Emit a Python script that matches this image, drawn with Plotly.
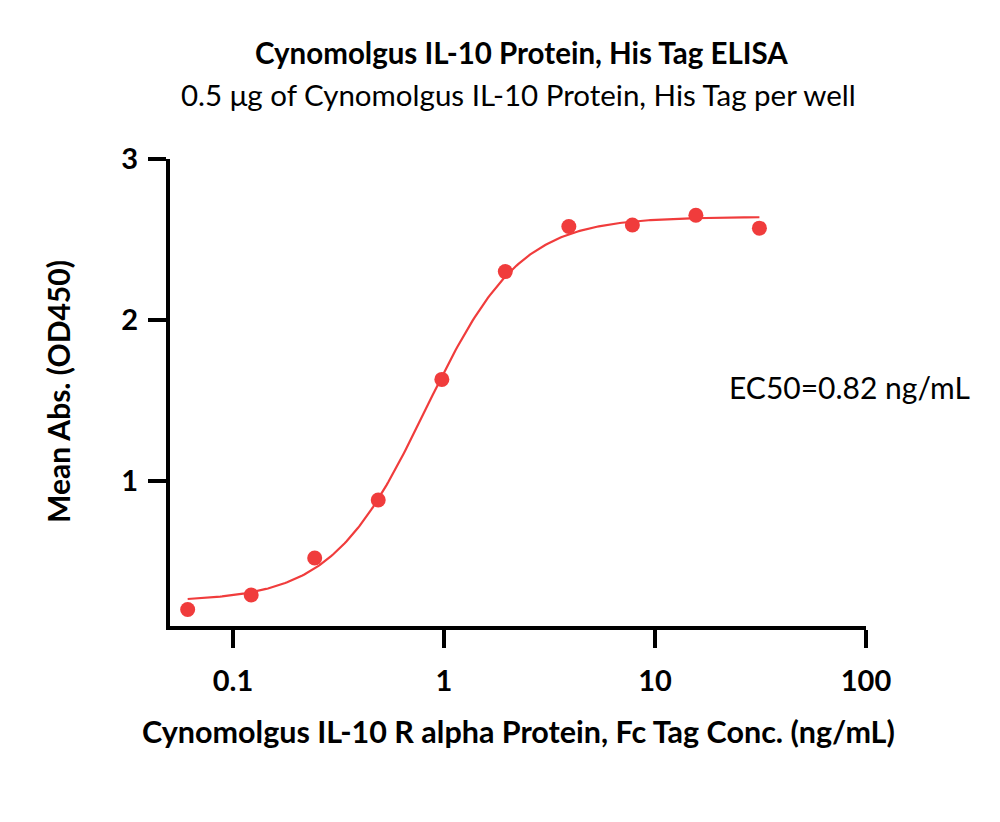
import numpy as np
import plotly.graph_objects as go

# Data
conc = [0.061, 0.122, 0.244, 0.488, 0.977, 1.953, 3.906, 7.8125, 15.625, 31.25]
od450 = [0.20, 0.29, 0.52, 0.88, 1.63, 2.30, 2.58, 2.59, 2.65, 2.57]

# 4PL fit parameters
fit_bottom = 0.25
fit_top = 2.64
fit_ec50 = 0.82
fit_hill = 1.95

x_ticks = [0.1, 1, 10, 100]
x_ticklabels = ["0.1", "1", "10", "100"]
y_ticks = [1, 2, 3]
y_ticklabels = ["1", "2", "3"]

title = "Cynomolgus IL-10 Protein, His Tag ELISA"
subtitle = "0.5 μg of Cynomolgus IL-10 Protein, His Tag per well"
x_title = "Cynomolgus IL-10 R alpha Protein, Fc Tag Conc. (ng/mL)"
y_title = "Mean Abs. (OD450)"
ec50_text = "EC50=0.82 ng/mL"

red = "#F03C3C"
FONT = "Lato"

# page offset (browser body margin) is 8px
L, T, R, B = 162, 151, 142, 204
PW = 1000 - L - R
PH = 822 - T - B


def px(xp):
    return (xp - 8 - L) / PW


def py(yp):
    return 1 - (yp - 8 - T) / PH


xc = np.logspace(np.log10(conc[0]), np.log10(conc[-1]), 300)
yc = fit_bottom + (fit_top - fit_bottom) / (1 + (fit_ec50 / xc) ** fit_hill)

fig = go.Figure()
fig.add_trace(go.Scatter(x=xc, y=yc, mode="lines",
                         line=dict(color=red, width=2.2), hoverinfo="skip"))
fig.add_trace(go.Scatter(x=conc, y=od450, mode="markers",
                         marker=dict(color=red, size=15, line=dict(width=0))))

fig.update_layout(
    width=1000, height=822,
    margin=dict(l=L, r=R, t=T, b=B),
    paper_bgcolor="white", plot_bgcolor="white",
    showlegend=False,
    font=dict(family=FONT, color="black"),
    xaxis=dict(type="log", range=[np.log10(0.0503), 2],
               tickvals=x_ticks, ticktext=x_ticklabels,
               ticks="outside", ticklen=18, tickwidth=4, tickcolor="black",
               showline=True, linewidth=4, linecolor="black",
               showgrid=False, zeroline=False,
               tickfont=dict(size=29, family=FONT, weight="bold"),
               ticklabelstandoff=8),
    yaxis=dict(range=[0.097, 3.0],
               tickvals=y_ticks, ticktext=y_ticklabels,
               ticks="outside", ticklen=18, tickwidth=4, tickcolor="black",
               showline=True, linewidth=4, linecolor="black",
               showgrid=False, zeroline=False,
               tickfont=dict(size=29, family=FONT, weight="bold"),
               ticklabelstandoff=4),
)

fig.add_annotation(text=f"<b>{title}</b>", xref="paper", yref="paper",
                   x=px(521), y=py(52),
                   showarrow=False, font=dict(size=29.5, family=FONT),
                   xanchor="center", yanchor="middle")
fig.add_annotation(text=subtitle, xref="paper", yref="paper",
                   x=px(519), y=py(94),
                   showarrow=False, font=dict(size=29.5, family=FONT),
                   xanchor="center", yanchor="middle")
fig.add_annotation(text=f"<b>{x_title}</b>", xref="paper", yref="paper",
                   x=px(518), y=py(731),
                   showarrow=False, font=dict(size=30.5, family=FONT),
                   xanchor="center", yanchor="middle")
fig.add_annotation(text=f"<b>{y_title}</b>", xref="paper", yref="paper",
                   x=px(58), y=py(392), textangle=-90,
                   showarrow=False, font=dict(size=30, family=FONT),
                   xanchor="center", yanchor="middle")
fig.add_annotation(text=ec50_text, xref="paper", yref="paper",
                   x=px(727), y=py(387),
                   showarrow=False, font=dict(size=30, family=FONT),
                   xanchor="left", yanchor="middle")

fig.write_html("out.html")
